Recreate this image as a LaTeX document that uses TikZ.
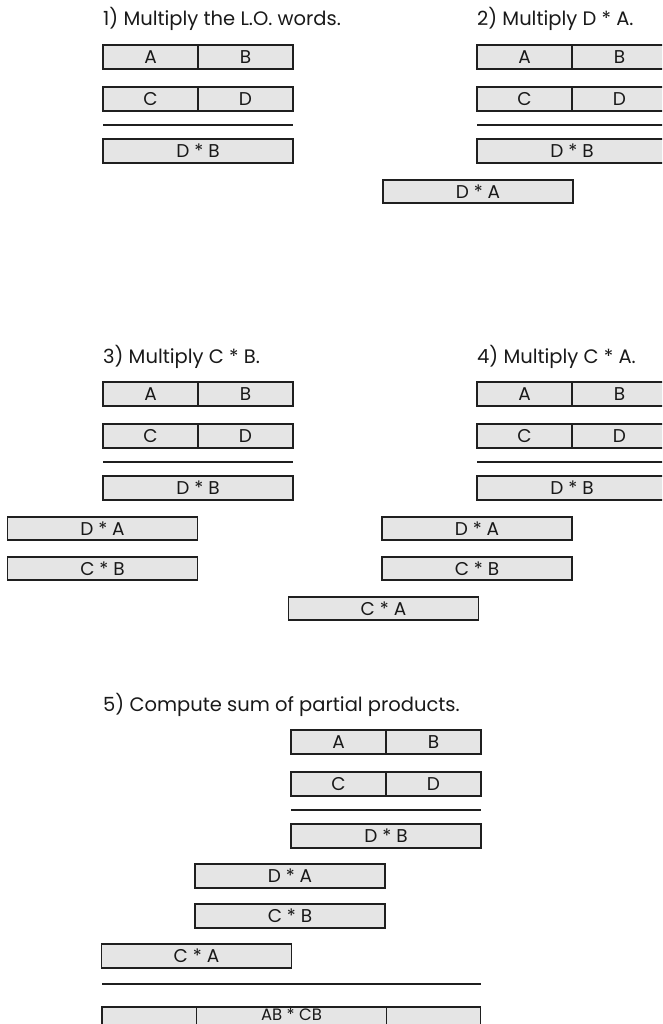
\documentclass[tikz,border=0pt]{standalone}
\usepackage{fontspec}
\setmainfont{Poppins}
\tikzset{
  cell/.style={draw=black!88, line width=1.8pt, fill=black!10, minimum height=23.5pt,
    inner sep=0pt, text=black!90, font=\fontsize{18.5}{18.5}\selectfont},
  half/.style={cell, minimum width=95pt},
  full/.style={cell, minimum width=190pt},
  rule/.style={draw=black!88, line width=2pt},
  title/.style={anchor=base west, inner sep=0pt, text=black!90, font=\fontsize{19.5}{19.5}\selectfont}
}
\newcommand{\mulblock}[1]{%
  \node[half] (#1a) at (150.5,57) {A};
  \node[half] (#1b) at (245.5,57) {B};
  \node[half] (#1c) at (150.5,99) {C};
  \node[half] (#1d) at (245.5,99) {D};
  \coordinate (#1ls) at (103,125.3);
  \coordinate (#1le) at (293,125.3);
  \draw[rule] (#1ls) -- (#1le);
  \node[full] (#1db) at (198,151) {D * B};
}
\begin{document}
\begin{tikzpicture}[x=1pt,y=-1pt]
\useasboundingbox (0,0) rectangle (662,1024);
\clip (0,0) rectangle (662,1024);
% block 1
\node[title] (t1) at (103,26) {1) Multiply the L.O. words.};
\mulblock{p}
% block 2
\node[title] (t2) at (477,26) {2) Multiply D * A.};
\begin{scope}[shift={(374,0)}]
  \mulblock{q}
  \node[full] (qda) at (104,191.5) {D * A};
\end{scope}
% block 3
\node[title] (t3) at (103,363) {3) Multiply C * B.};
\begin{scope}[shift={(0,337)}]
  \mulblock{r}
  \node[full] (rda) at (102.5,191.5) {D * A};
  \node[full] (rcb) at (102.5,231.5) {C * B};
\end{scope}
% block 4
\node[title] (t4) at (477,363) {4) Multiply C * A.};
\begin{scope}[shift={(374,337)}]
  \mulblock{s}
  \node[full] (sda) at (103,191.5) {D * A};
  \node[full] (scb) at (103,231.5) {C * B};
  \node[full] (sca) at (9.5,271.5) {C * A};
\end{scope}
% block 5
\node[title] (t5) at (103,711) {5) Compute sum of partial products.};
\begin{scope}[shift={(188,685)}]
  \mulblock{u}
  \node[full] (uda) at (102,191) {D * A};
  \node[full] (ucb) at (102,231) {C * B};
  \node[full] (uca) at (8.5,271) {C * A};
  \coordinate (uls2) at (-86,298.5);
  \coordinate (ule2) at (293,298.5);
  \draw[rule] (uls2) -- (ule2);
  \node[half] (ux) at (-38.5,334) {};
  \node[full] (uab) at (103.5,334) {};
  \node[half, minimum width=94pt] (uy) at (245.5,334) {};
  \node[anchor=base, inner sep=0pt, text=black!90, font=\fontsize{16.5}{16.5}\selectfont]
        (uabt) at (103.5,335.5) {AB * CB};
\end{scope}
\end{tikzpicture}
\end{document}
